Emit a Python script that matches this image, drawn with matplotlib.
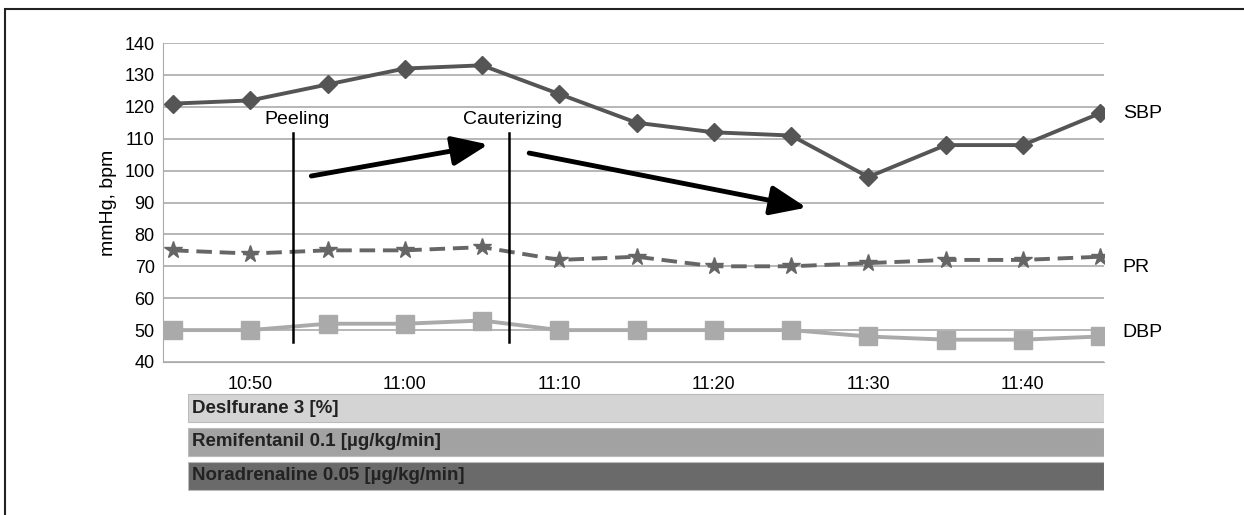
import matplotlib.pyplot as plt
from matplotlib.patches import Rectangle

plt.rcParams['font.family'] = ['Liberation Sans', 'DejaVu Sans']

times = ['10:45', '10:50', '10:55', '11:00', '11:05', '11:10', '11:15',
         '11:20', '11:25', '11:30', '11:35', '11:40', '11:45']
sbp = [121, 122, 127, 132, 133, 124, 115, 112, 111, 98, 108, 108, 118]
pr = [75, 74, 75, 75, 76, 72, 73, 70, 70, 71, 72, 72, 73]
dbp = [50, 50, 52, 52, 53, 50, 50, 50, 50, 48, 47, 47, 48]
drugs = ['Deslfurane 3 [%]', 'Remifentanil 0.1 [µg/kg/min]', 'Noradrenaline 0.05 [µg/kg/min]']
drug_colors = ['#d4d4d4', '#a2a2a2', '#6a6a6a']
events = ['Peeling', 'Cauterizing']
event_x = [1.55, 4.35]

x = list(range(len(times)))

fig = plt.figure(figsize=(12.44, 5.15), dpi=100)
W, H = 1244, 515

# outer frame (only top and left edge visible)
fig.patches.append(Rectangle((5 / W, -0.1), 1.2, 1 - 9 / H + 0.1, transform=fig.transFigure,
                             fill=False, edgecolor='#222222', linewidth=1.5))

ax = fig.add_axes([163 / W, 1 - 362 / H, (1104 - 163) / W, (362 - 43) / H])
ax.plot(x, sbp, color='#555555', lw=2.8, marker='D', markersize=9, zorder=3)
ax.plot(x, pr, color='#666666', lw=2.8, ls=(0, (4, 2)), marker='*', markersize=13, zorder=3)
ax.plot(x, dbp, color='#aaaaaa', lw=2.8, marker='s', markersize=13, zorder=3)

ax.set_ylim(40, 140)
ax.set_yticks(range(40, 141, 10))
ax.set_xlim(-0.13, 12.05)
ax.set_xticks(x[1::2])
ax.set_xticklabels(times[1::2])
ax.grid(axis='y', color='#aaaaaa', lw=1.2)
ax.set_axisbelow(True)
for s in ['top', 'right']:
    ax.spines[s].set_visible(False)
ax.spines['left'].set_color('#aaaaaa')
ax.spines['bottom'].set_color('#aaaaaa')
ax.tick_params(length=0, labelsize=13, pad=6)
ax.tick_params(axis='x', pad=10)
ax.set_ylabel('mmHg, bpm', fontsize=14, labelpad=5)

for name, ex in zip(events, event_x):
    ax.plot([ex, ex], [46.3, 111.8], color='black', lw=1.8, zorder=4)
    ax.text(ex + 0.05, 116.0, name, ha='center', va='center', fontsize=14)

arrow = dict(arrowstyle='-|>,head_length=1.1,head_width=0.45', mutation_scale=20,
             color='black', lw=3.5, shrinkA=0, shrinkB=0)
ax.annotate('', xy=(4.08, 108.2), xytext=(1.79, 98.3), arrowprops=arrow)
ax.annotate('', xy=(8.2, 88.4), xytext=(4.61, 105.5), arrowprops=arrow)

for lab, val in zip(['SBP', 'PR', 'DBP'], [118, 69.5, 49.4]):
    ax.text(1.02, (val - 40) / 100, lab, transform=ax.transAxes, ha='left', va='center', fontsize=14)

# drug bars below the chart
bx = fig.add_axes([188 / W, 1 - 491 / H, (1104 - 188) / W, (491 - 393) / H])
ypos = [2, 1, 0]
bx.barh(ypos, [1] * 3, height=0.84, left=0, color=drug_colors, edgecolor='#bbbbbb', lw=0.8)
for yy, lab in zip(ypos, drugs):
    bx.text(0.004, yy, lab, ha='left', va='center', fontsize=13.5, fontweight='bold', color='#222222')
bx.set_xlim(0, 1)
bx.set_ylim(-0.45, 2.45)
bx.axis('off')

fig.savefig('out.png', dpi=100)
